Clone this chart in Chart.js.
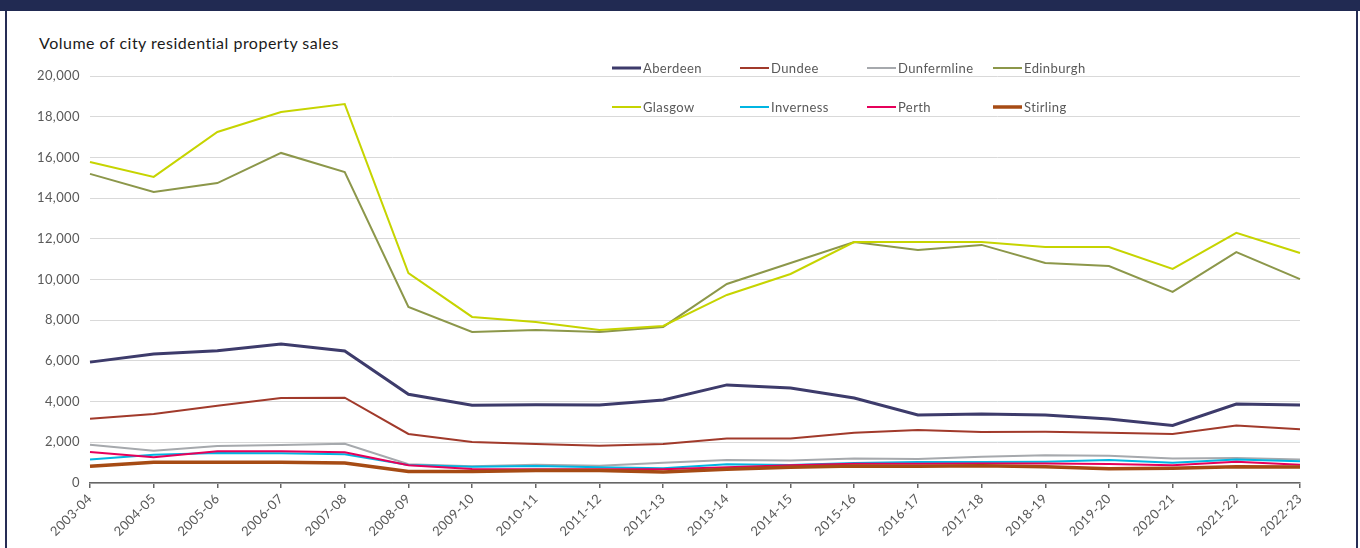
<!DOCTYPE html>
<html>
<head>
<meta charset="utf-8">
<script src="https://cdn.jsdelivr.net/npm/chart.js@4.4.1/dist/chart.umd.min.js"></script>
<style>
  html, body { margin: 0; padding: 0; background: #ffffff; }
  #frame { position: relative; width: 1360px; height: 548px; overflow: hidden; background: #ffffff; }
  #band { position: absolute; left: 0; top: 0; width: 1360px; height: 11px; background: #212a52; }
  #edgeL { position: absolute; left: 5px; top: 11px; width: 2px; height: 537px; background: #262d55; }
  #edgeR { position: absolute; left: 1356px; top: 11px; width: 2px; height: 537px; background: #262d55; }
  #title { position: absolute; left: 39px; top: 33px; font: 16px Lato, sans-serif; letter-spacing: 0.5px; line-height: 20px; color: #1b1b1b; white-space: nowrap; }
  #holder { position: absolute; left: 0; top: 0; width: 1360px; height: 548px; }
</style>
</head>
<body>
<div id="frame">
  <div id="band"></div>
  <div id="edgeL"></div>
  <div id="edgeR"></div>
  <div id="title">Volume of city residential property sales</div>
  <div id="holder"><canvas id="chart"></canvas></div>
</div>
<script>
// Financial years on the category axis
const years = ['2003-04', '2004-05', '2005-06', '2006-07', '2007-08', '2008-09', '2009-10',
  '2010-11', '2011-12', '2012-13', '2013-14', '2014-15', '2015-16', '2016-17', '2017-18',
  '2018-19', '2019-20', '2020-21', '2021-22', '2022-23'];

// Residential sales per city
const aberdeen    = [5940, 6340, 6500, 6830, 6490, 4360, 3820, 3850, 3830, 4080, 4820, 4670, 4180, 3340, 3390, 3340, 3150, 2830, 3880, 3830];
const dundee      = [3160, 3390, 3800, 4180, 4190, 2410, 2010, 1920, 1830, 1920, 2190, 2190, 2470, 2600, 2510, 2520, 2470, 2410, 2820, 2640];
const dunfermline = [1880, 1590, 1820, 1870, 1930, 920, 820, 900, 850, 1000, 1130, 1100, 1200, 1180, 1290, 1360, 1340, 1200, 1230, 1160];
const edinburgh   = [15190, 14300, 14740, 16220, 15280, 8650, 7420, 7520, 7420, 7670, 9780, 10810, 11840, 11450, 11700, 10810, 10660, 9390, 11350, 10020];
const glasgow     = [15770, 15040, 17250, 18230, 18620, 10320, 8160, 7910, 7520, 7720, 9240, 10270, 11840, 11840, 11840, 11600, 11600, 10520, 12290, 11300];
const inverness   = [1160, 1390, 1470, 1460, 1410, 880, 800, 840, 770, 720, 920, 880, 980, 1030, 1030, 1050, 1130, 1000, 1150, 1070];
const perth       = [1520, 1260, 1560, 1560, 1510, 870, 690, 670, 670, 670, 770, 870, 950, 950, 960, 960, 930, 870, 1050, 900];
const stirling    = [820, 1020, 1020, 1020, 980, 570, 570, 620, 620, 540, 670, 770, 840, 820, 850, 800, 700, 720, 800, 790];

// Value axis ticks
const yTicks = [0, 2000, 4000, 6000, 8000, 10000, 12000, 14000, 16000, 18000, 20000];

const cities = ['Aberdeen', 'Dundee', 'Dunfermline', 'Edinburgh', 'Glasgow', 'Inverness', 'Perth', 'Stirling'];
const series = [aberdeen, dundee, dunfermline, edinburgh, glasgow, inverness, perth, stirling];
const colours = ['#3d3b6b', '#a13a2b', '#a6a9ad', '#8c974a', '#c6d400', '#00b5e2', '#e6005a', '#a64b14'];
const widths = [3, 2, 2, 2, 2, 2, 2, 3.5];

const datasets = cities.map((name, i) => ({
  label: name,
  data: series[i],
  borderColor: colours[i],
  backgroundColor: colours[i],
  borderWidth: widths[i],
  pointRadius: 0,
  pointHoverRadius: 0,
  tension: 0,
  fill: false,
  // later cities are drawn over earlier ones
  order: cities.length - 1 - i
}));

// Slightly open tracking for all canvas text
const textSpacing = {
  id: 'textSpacing',
  beforeDraw(chart) {
    if ('letterSpacing' in chart.ctx) chart.ctx.letterSpacing = '0.4px';
  }
};

// Legend drawn as a 4 x 2 grid over the top of the plot
const gridLegend = {
  id: 'gridLegend',
  afterDatasetsDraw(chart, args, opts) {
    const ctx = chart.ctx;
    ctx.save();
    ctx.font = opts.font;
    ctx.fillStyle = opts.color;
    ctx.textBaseline = 'middle';
    ctx.textAlign = 'left';
    if ('letterSpacing' in ctx) ctx.letterSpacing = opts.letterSpacing;
    chart.data.datasets.forEach((ds, i) => {
      const col = i % opts.columns.length;
      const row = Math.floor(i / opts.columns.length);
      const x = opts.columns[col];
      const y = opts.rows[row];
      ctx.strokeStyle = ds.borderColor;
      ctx.lineWidth = ds.borderWidth;
      ctx.beginPath();
      ctx.moveTo(x, y);
      ctx.lineTo(x + opts.lineLength, y);
      ctx.stroke();
      ctx.fillText(ds.label, x + opts.lineLength + 2, y + 0.5);
    });
    ctx.restore();
  }
};

new Chart(document.getElementById('chart'), {
  type: 'line',
  data: { labels: years, datasets: datasets },
  plugins: [textSpacing, gridLegend],
  options: {
    responsive: true,
    maintainAspectRatio: false,
    animation: false,
    events: [],
    layout: { padding: { top: 76, right: 60, bottom: 0, left: 0 } },
    plugins: {
      legend: { display: false },
      title: { display: false },
      tooltip: { enabled: false },
      gridLegend: {
        columns: [612, 740, 867, 993],
        rows: [68, 107],
        lineLength: 29,
        font: '13px Lato, sans-serif',
        color: '#595959',
        letterSpacing: '0.4px'
      }
    },
    scales: {
      x: {
        offset: false,
        afterFit: s => { s.height = 65; },
        border: { display: true, color: '#666666', width: 1.5 },
        grid: { drawOnChartArea: false, drawTicks: true, tickLength: 5, color: '#666666', lineWidth: 1.5 },
        ticks: {
          autoSkip: false,
          maxRotation: 45,
          minRotation: 45,
          padding: 3,
          color: '#595959',
          font: { family: 'Lato, sans-serif', size: 13 }
        }
      },
      y: {
        min: 0,
        max: 20000,
        afterFit: s => { s.width = 90; },
        afterBuildTicks: s => { s.ticks = yTicks.map(v => ({ value: v })); },
        border: { display: false },
        grid: { color: '#d9d9d9', lineWidth: 1, drawTicks: false },
        ticks: {
          padding: 10,
          color: '#595959',
          font: { family: 'Lato, sans-serif', size: 13 },
          callback: v => v.toLocaleString('en-GB')
        }
      }
    }
  }
});
</script>
</body>
</html>
